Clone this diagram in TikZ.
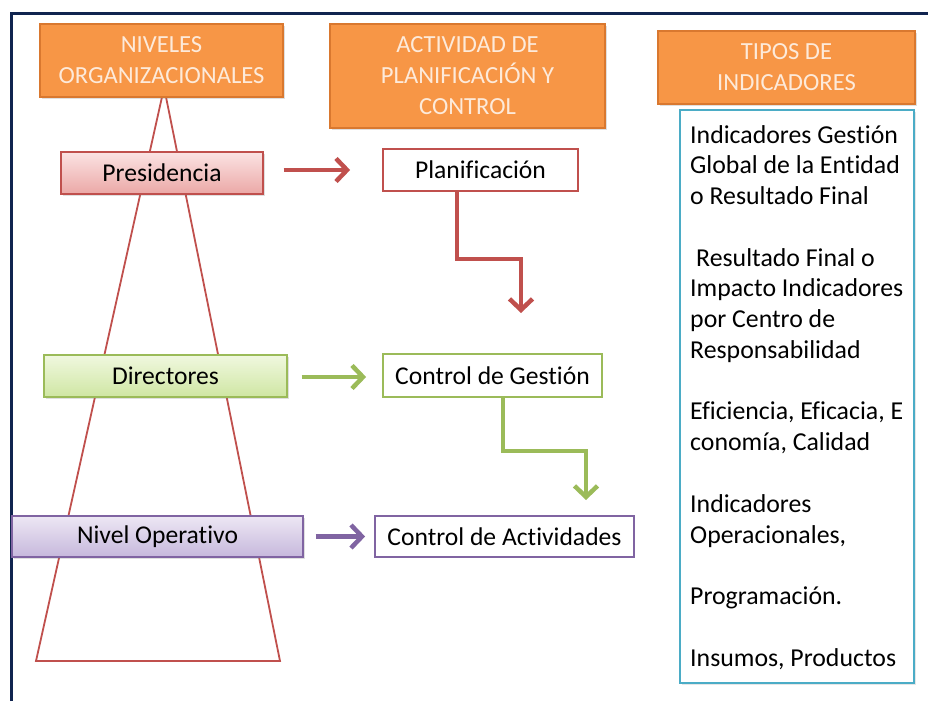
\documentclass[tikz,border=0pt]{standalone}
\usepackage{fontspec}
\setmainfont{Carlito}[Ligatures={NoCommon}]
\usetikzlibrary{arrows.meta,shadows,calc}
\definecolor{navy}{HTML}{10244F}
\definecolor{oran}{HTML}{F79646}
\definecolor{orandk}{HTML}{D9782F}
\definecolor{orantx}{HTML}{FDEADA}
\definecolor{redc}{HTML}{C0504D}
\definecolor{greenc}{HTML}{9BBB59}
\definecolor{purc}{HTML}{8064A2}
\definecolor{bluec}{HTML}{4BACC6}
\definecolor{prtop}{HTML}{FBE3E3}
\definecolor{prbot}{HTML}{EBA8A6}
\definecolor{grtop}{HTML}{F0F8DF}
\definecolor{grbot}{HTML}{CFE6A3}
\definecolor{pptop}{HTML}{EDE7F4}
\definecolor{ppbot}{HTML}{C6B8DC}
\begin{document}
\begin{tikzpicture}[x=1pt,y=-1pt,
  hdr/.style={draw=orandk,line width=1.5pt,fill=oran,text=orantx,align=center,
    font=\fontsize{24.6}{31}\selectfont,inner sep=0pt,
    drop shadow={shadow xshift=2pt,shadow yshift=-2pt,opacity=0.25}},
  lvl/.style={line width=1.2pt,inner sep=0pt,font=\fontsize{25.6}{30}\selectfont,
    drop shadow={shadow xshift=2pt,shadow yshift=-2pt,opacity=0.25}},
  act/.style={line width=1.8pt,fill=white,inner sep=0pt,font=\fontsize{25.6}{30}\selectfont},
  arr/.style={line width=4.5pt,-{Straight Barb[length=11pt,width=23pt]}}
]
\useasboundingbox (0,0) rectangle (928,701);
% frame
\draw[navy,line width=3pt] (11,701) -- (11,14) -- (930,14);
% trapezoid
\coordinate (tl) at (162,97);
\coordinate (tr) at (166,97);
\coordinate (bl) at (36,661);
\coordinate (br) at (280,661);
\draw[redc,line width=1.8pt,line join=miter] (tl) -- (bl) -- (br) -- (tr);
% headers
\node[hdr,minimum width=243,minimum height=73] (h1) at (161.5,60.5) {NIVELES\\ORGANIZACIONALES};
\node[hdr,minimum width=275,minimum height=104] (h2) at (467.5,76) {ACTIVIDAD DE\\PLANIFICACIÓN Y\\CONTROL};
\node[hdr,minimum width=257,minimum height=73] (h3) at (786.5,67.5) {TIPOS DE\\INDICADORES};
% indicator box
\node[draw=bluec,line width=2.2pt,fill=white,minimum width=234,minimum height=573,inner sep=0pt,
  drop shadow={shadow xshift=2pt,shadow yshift=-2pt,opacity=0.2}] (ib) at (797,396.5) {};
\node[anchor=north west,inner sep=0pt,align=left,font=\fontsize{25.8}{30.76}\selectfont] (it) at (690,125)
{Indicadores Gestión\\Global de la Entidad\\o Resultado Final\\[30.76pt]
\hspace*{6pt}Resultado Final o\\Impacto Indicadores\\por Centro de\\Responsabilidad\\[30.76pt]
Eficiencia, Eficacia, E\\conomía, Calidad\\[30.76pt]
Indicadores\\Operacionales,\\[30.76pt]
Programación.\\[30.76pt]
Insumos, Productos};
% levels
\node[lvl,draw=redc,top color=prtop,bottom color=prbot,minimum width=202,minimum height=42] (pres) at (162,173) {Presidencia};
\node[lvl,draw=greenc,top color=grtop,bottom color=grbot,minimum width=243,minimum height=42] (dir) at (165.5,376) {Directores};
\node[lvl,draw=purc,top color=pptop,bottom color=ppbot,minimum width=291,minimum height=41] (nop) at (157.5,536.5) {Nivel Operativo};
% activities
\node[act,draw=redc,minimum width=195,minimum height=42] (plan) at (480.5,170) {Planificación};
\node[act,draw=greenc,minimum width=219,minimum height=43] (cg) at (492.5,375.5) {Control de Gestión};
\node[act,draw=purc,minimum width=259,minimum height=41] (ca) at (504.5,536.5) {Control de Actividades};
% arrows
\draw[arr,redc] ([xshift=20pt,yshift=3pt]pres.east) -- ([xshift=-32pt]plan.west);
\draw[arr,greenc] ([xshift=14pt,yshift=-1pt]dir.east) -- ([xshift=-16pt,yshift=-1.5pt]cg.west);
\draw[arr,purc] ([xshift=12pt]nop.east) -- ([xshift=-9pt]ca.west);
\coordinate (e1) at (521,313);
\coordinate (e2) at (586,500);
\draw[arr,redc] ([xshift=-23.5pt]plan.south) -- ++(0,67) -| (e1);
\draw[arr,greenc] ([xshift=10.5pt]cg.south) -- ++(0,53) -| (e2);
\end{tikzpicture}
\end{document}
